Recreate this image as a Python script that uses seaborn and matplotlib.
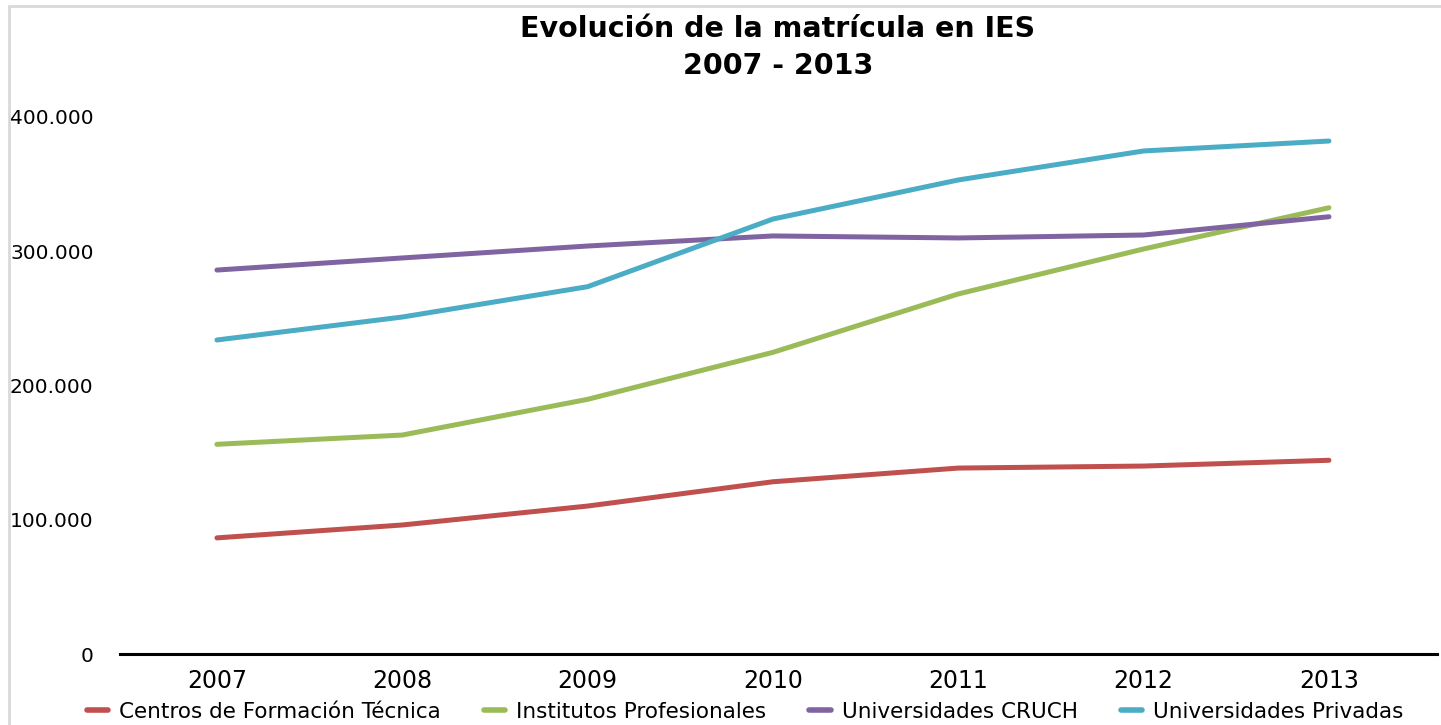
import pandas as pd
import seaborn as sns
import matplotlib.pyplot as plt
from matplotlib.lines import Line2D

sns.set_theme(style='white')
plt.rcParams['font.family'] = ['DejaVu Sans']
plt.rcParams['text.color'] = 'black'
plt.rcParams['xtick.color'] = 'black'
plt.rcParams['ytick.color'] = 'black'

# datos (matricula por tipo de institucion)
years = [2007, 2008, 2009, 2010, 2011, 2012, 2013]
cft = [86500, 96100, 110200, 128300, 138500, 140000, 144300]
ip = [156200, 163100, 189700, 224700, 268200, 301700, 332400]
cruch = [286000, 295000, 303900, 311400, 309900, 312100, 325700]
privadas = [233900, 251000, 273600, 324000, 353100, 374700, 382100]

series = ['Centros de Formación Técnica', 'Institutos Profesionales',
          'Universidades CRUCH', 'Universidades Privadas']
colors = ['#C0504D', '#9BBB59', '#8064A2', '#4BACC6']

df = pd.DataFrame({'year': years, series[0]: cft, series[1]: ip,
                   series[2]: cruch, series[3]: privadas})
df = df.melt(id_vars='year', var_name='tipo', value_name='matricula')

fig = plt.figure(figsize=(14.41, 7.25), dpi=100)
ax = fig.add_axes([120 / 1441, 1 - 654 / 725, 1317 / 1441, 537 / 725])

sns.lineplot(data=df, x='year', y='matricula', hue='tipo', hue_order=series,
             palette=colors, linewidth=3.6, ax=ax, legend=False)
for ln in ax.lines:
    ln.set_solid_capstyle('round')
    ln.set_clip_on(False)

ax.set_xlim(2007 - 0.523, 2013 + 0.583)
ax.set_ylim(0, 400000)
ax.set_xticks(years)
ax.set_xticklabels([str(y) for y in years], fontsize=17)
ax.set_yticks([0, 100000, 200000, 300000, 400000])
ax.set_yticklabels(['0', '100.000', '200.000', '300.000', '400.000'], fontsize=14.5)
ax.tick_params(axis='y', length=0, pad=19)
ax.tick_params(axis='x', length=0, pad=11)
ax.set_xlabel('')
ax.set_ylabel('')
for s in ['top', 'right', 'left']:
    ax.spines[s].set_visible(False)
ax.spines['bottom'].set_color('black')
ax.spines['bottom'].set_linewidth(2.2)

# titulo en dos lineas
fig.text(778 / 1441, 1 - 29 / 725, 'Evolución de la matrícula en IES',
         ha='center', va='center', fontsize=20.5, fontweight='bold')
fig.text(778 / 1441, 1 - 66 / 725, '2007 - 2013',
         ha='center', va='center', fontsize=20.5, fontweight='bold')

# marco gris del area del grafico
fig.add_artist(Line2D([9 / 1441, 1.0], [1 - 6 / 725, 1 - 6 / 725],
                      transform=fig.transFigure, color='#D9D9D9', linewidth=2))
fig.add_artist(Line2D([9 / 1441, 9 / 1441], [0, 1 - 6 / 725],
                      transform=fig.transFigure, color='#D9D9D9', linewidth=2))

handles = [Line2D([0], [0], color=c, linewidth=4) for c in colors]
fig.legend(handles, series, loc='center', bbox_to_anchor=(745 / 1441, 13 / 725),
           ncol=4, frameon=False, fontsize=15.5, handlelength=1.0,
           handletextpad=0.5, columnspacing=2.0, borderaxespad=0)

fig.savefig('out.png', dpi=100)
